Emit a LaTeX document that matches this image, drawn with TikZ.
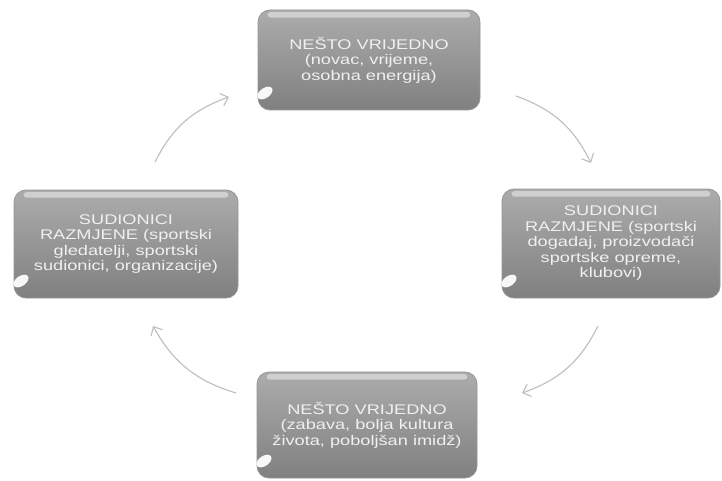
\documentclass[tikz,border=0pt]{standalone}
\usepackage{fontspec}
\setmainfont{Liberation Sans}
\newfontfamily\boxfont[FakeStretch=1.3]{Liberation Sans}
\usetikzlibrary{arrows.meta,shadings,fadings}
\definecolor{boxtop}{RGB}{172,172,172}
\definecolor{boxbot}{RGB}{128,128,128}
\definecolor{boxedge}{RGB}{150,150,150}
\definecolor{boxtext}{RGB}{240,240,240}
\definecolor{arrowc}{RGB}{190,190,190}
\tikzset{
  stagebox/.style={rounded corners=12pt, top color=boxtop, bottom color=boxbot,
    draw=boxedge, line width=0.8pt, text=boxtext,
    font=\boxfont\fontsize{14}{15.5}\selectfont, align=center, inner sep=0pt},
  cyclearrow/.style={draw=arrowc, line width=1.1pt,
    -{Straight Barb[length=7pt,width=13pt]}, bend left=22},
  glossband/.style={fill=white, opacity=0.45, rounded corners=3pt},
  glossblob/.style={fill=white, opacity=0.95},
}
\begin{document}
\begin{tikzpicture}[x=1pt,y=-1pt]
\useasboundingbox[fill=white] (0,0) rectangle (722,481);

\node[stagebox, minimum width=222pt, minimum height=100pt] (top) at (369,60)
  {NEŠTO VRIJEDNO\\(novac, vrijeme,\\osobna energija)};
\node[stagebox, minimum width=218pt, minimum height=109pt] (right) at (611,243.5)
  {SUDIONICI\\RAZMJENE (sportski\\dogadaj, proizvodači\\sportske opreme,\\klubovi)};
\node[stagebox, minimum width=220pt, minimum height=106pt] (bottom) at (367,425)
  {NEŠTO VRIJEDNO\\(zabava, bolja kultura\\života, poboljšan imidž)};
\node[stagebox, minimum width=224pt, minimum height=108pt] (left) at (126,244)
  {SUDIONICI\\RAZMJENE (sportski\\gledatelji, sportski\\sudionici, organizacije)};

\foreach \b in {top,right,bottom,left}{
  \fill[glossband] ([xshift=10pt,yshift=-2.5pt]\b.north west) rectangle ([xshift=-10pt,yshift=-8pt]\b.north east);
  \fill[glossblob, rotate around={35:([xshift=16pt,yshift=10pt]\b.south west)}]
    ([xshift=16pt,yshift=10pt]\b.south west) ellipse (8.5pt and 5pt);
}

\coordinate (a1s) at (155,162); \coordinate (a1e) at (229,97);
\coordinate (a2s) at (516,96);  \coordinate (a2e) at (591,163);
\coordinate (a3s) at (598,326); \coordinate (a3e) at (522,393);
\coordinate (a4s) at (236,393); \coordinate (a4e) at (153,326);

\draw[cyclearrow] (a1s) to (a1e);
\draw[cyclearrow] (a2s) to (a2e);
\draw[cyclearrow] (a3s) to (a3e);
\draw[cyclearrow] (a4s) to (a4e);
\end{tikzpicture}
\end{document}
